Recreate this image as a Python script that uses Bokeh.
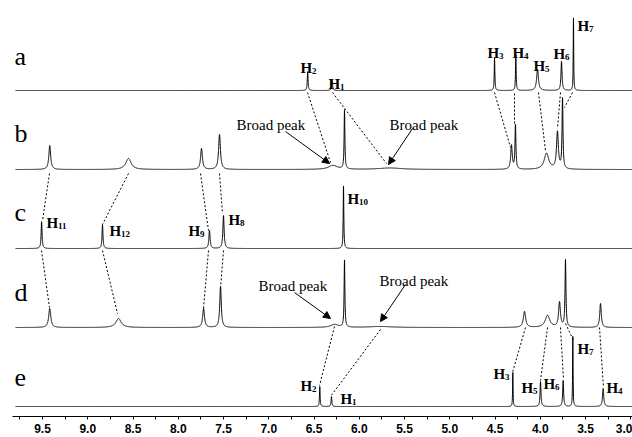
import numpy as np
from bokeh.plotting import figure
from bokeh.models import Range1d, FixedTicker, PrintfTickFormatter, Arrow, NormalHead, ColumnDataSource
from bokeh.core.properties import value
from bokeh.embed import file_html
from bokeh.resources import INLINE

# ---------------- data ----------------
major_ticks = [9.5, 9.0, 8.5, 8.0, 7.5, 7.0, 6.5, 6.0, 5.5, 5.0, 4.5, 4.0, 3.5, 3.0]
minor_ticks = [9.75, 9.25, 8.75, 8.25, 7.75, 7.25, 6.75, 6.25, 5.75, 5.25, 4.75, 4.25, 3.75, 3.25]

spectrum_names = ["a", "b", "c", "d", "e"]

# peak position (ppm), peak intensity (a.u.), half width (ppm)
a_ppm = [6.57, 6.30, 4.505, 4.27, 4.03, 3.765, 3.633]
a_int = [19, 10, 33, 36, 21, 29, 73]
a_wid = [0.005, 0.006, 0.004, 0.004, 0.012, 0.007, 0.003]

b_ppm = [9.42, 8.55, 7.743, 7.544, 6.29, 6.163, 5.66, 4.318, 4.274, 3.931, 3.81, 3.754]
b_int = [24, 11, 21, 35, 4, 59, 1.5, 24, 44, 16, 37, 70]
b_wid = [0.012, 0.035, 0.012, 0.012, 0.06, 0.005, 0.15, 0.01, 0.006, 0.03, 0.012, 0.006]

c_ppm = [9.51, 8.837, 7.655, 7.50, 6.174]
c_int = [27, 24, 18, 33, 63]
c_wid = [0.006, 0.006, 0.008, 0.008, 0.004]

d_ppm = [9.42, 8.66, 7.72, 7.533, 6.273, 6.163, 5.765, 4.174, 3.92, 3.787, 3.721, 3.334]
d_int = [19, 9, 19, 41, 3, 67, 1, 16, 12, 25, 67, 24]
d_wid = [0.014, 0.035, 0.012, 0.01, 0.05, 0.005, 0.15, 0.015, 0.03, 0.012, 0.006, 0.01]

e_ppm = [6.436, 6.307, 4.303, 3.997, 3.747, 3.64, 3.305]
e_int = [20, 10, 34, 25, 26, 70, 18]
e_wid = [0.004, 0.005, 0.003, 0.006, 0.006, 0.003, 0.008]

# peak label subscripts
a_labels = ["2", "1", "3", "4", "5", "6", "7"]
c_labels = ["11", "12", "9", "8", "10"]
e_labels = ["2", "1", "3", "5", "6", "7", "4"]

# ---------------- layout helpers ----------------
PX_PER_PPM = 90.5
def px(xp):   # reference pixel column -> ppm
    return 9.5 - (xp - 42) / PX_PER_PPM
def py(yp):   # reference pixel row -> vertical data unit
    return 417 - yp

offsets = [py(90), py(169), py(248), py(327), py(406)]

p = figure(width=632, height=437, output_backend="svg", toolbar_location=None,
           x_range=Range1d(px(12), px(632)), y_range=Range1d(py(416), py(10)),
           y_axis_location=None, min_border_left=12, min_border_right=0,
           min_border_top=10, min_border_bottom=21)
p.outline_line_color = None
p.xgrid.visible = False
p.ygrid.visible = False
p.background_fill_color = "white"
p.border_fill_color = "white"

ax = p.xaxis[0]
ax.ticker = FixedTicker(ticks=major_ticks, minor_ticks=minor_ticks)
ax.formatter = PrintfTickFormatter(format="%.1f")
ax.axis_line_color = "black"
ax.axis_line_width = 1
ax.major_tick_in = 0
ax.major_tick_out = 3
ax.minor_tick_in = 0
ax.minor_tick_out = 3
ax.major_tick_line_color = "black"
ax.minor_tick_line_color = "black"
ax.major_label_standoff = 4
ax.major_label_text_font = "Liberation Sans"
ax.major_label_text_font_style = "bold"
ax.major_label_text_font_size = "12px"
ax.major_label_text_color = "black"

# ---------------- spectra ----------------
xs = np.arange(px(15), 2.98, -0.0008)
all_peaks = [(a_ppm, a_int, a_wid), (b_ppm, b_int, b_wid), (c_ppm, c_int, c_wid),
             (d_ppm, d_int, d_wid), (e_ppm, e_int, e_wid)]
for (pp, ii, ww), off in zip(all_peaks, offsets):
    ys = np.full_like(xs, off, dtype=float)
    for x0, h, w in zip(pp, ii, ww):
        ys += h / (1.0 + ((xs - x0) / w) ** 2)
    p.line(xs, ys, line_color="black", line_width=1)

# spectrum letters
letter_src = ColumnDataSource(dict(
    x=[px(14)] * 5,
    y=[py(56), py(133), py(212), py(292), py(377)],
    t=spectrum_names))
p.text("x", "y", text="t", source=letter_src, text_font=value("Liberation Serif"),
       text_font_size="26px", text_color="black", text_baseline="alphabetic", text_align="left")

# H labels (left edge of "H", baseline)
lab_x = [300, 328, 487, 512, 533, 553, 577,
         46, 109, 188, 228, 347,
         300, 340, 493, 521, 543, 577, 606]
lab_y = [67, 83, 52, 52, 65, 53, 25,
         222, 230, 230, 219, 198,
         385, 398, 373, 387, 383, 348, 387]
subs = a_labels + c_labels + e_labels
H_src = ColumnDataSource(dict(x=[px(v) for v in lab_x], y=[py(v) for v in lab_y], t=["H"] * len(subs)))
S_src = ColumnDataSource(dict(x=[px(v + 11.5) for v in lab_x], y=[py(v + 3) for v in lab_y], t=subs))
p.text("x", "y", text="t", source=H_src, text_font=value("Liberation Serif"), text_font_style="bold",
       text_font_size="15px", text_color="black", text_baseline="alphabetic", text_align="left")
p.text("x", "y", text="t", source=S_src, text_font=value("Liberation Serif"), text_font_style="bold",
       text_font_size="9px", text_color="black", text_baseline="alphabetic", text_align="left")

# Broad peak texts
bp_src = ColumnDataSource(dict(x=[px(236), px(389), px(258), px(379)],
                               y=[py(124), py(124), py(285), py(280)],
                               t=["Broad peak"] * 4))
p.text("x", "y", text="t", source=bp_src, text_font=value("Liberation Serif"),
       text_font_size="15px", text_color="black", text_baseline="alphabetic", text_align="left")

arrows = [((285, 131), (329, 163)), ((412, 128), (388, 164)),
          ((294, 292), (330, 318)), ((405, 284), (380, 321))]
for (x0, y0), (x1, y1) in arrows:
    p.add_layout(Arrow(end=NormalHead(size=7, fill_color="black", line_color="black", line_width=1),
                       x_start=px(x0), y_start=py(y0), x_end=px(x1), y_end=py(y1),
                       line_color="black", line_width=1))

# dashed connectors
conn = [((307, 92), (330, 162)), ((332, 92), (386, 163)), ((494, 92), (510, 147)),
        ((514, 93), (514, 123)), ((538, 92), (545, 150)), ((560, 92), (557, 128)),
        ((572, 92), (564, 107)),
        ((49, 173), (42, 220)), ((128, 173), (102, 224)), ((200, 173), (208, 230)),
        ((219, 173), (222, 213)),
        ((41, 250), (49, 307)), ((102, 250), (117, 313)), ((208, 250), (203, 308)),
        ((223, 250), (220, 288)),
        ((334, 326), (319, 385)), ((380, 329), (330, 396)), ((525, 327), (512, 372)),
        ((547, 327), (540, 380)), ((560, 327), (563, 379)), ((565, 323), (573, 340)),
        ((599, 327), (603, 387))]
p.segment(x0=[px(c[0][0]) for c in conn], y0=[py(c[0][1]) for c in conn],
          x1=[px(c[1][0]) for c in conn], y1=[py(c[1][1]) for c in conn],
          line_color="black", line_width=1, line_dash="2 2")

open("out.html", "w").write(file_html(p, INLINE))
